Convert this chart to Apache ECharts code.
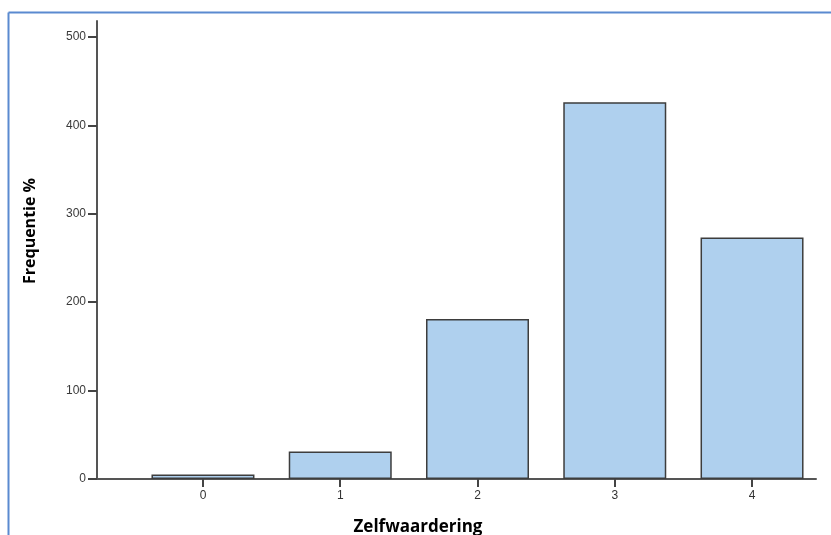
<!DOCTYPE html>
<html><head><meta charset="utf-8">
<script src="https://cdn.jsdelivr.net/npm/echarts@6/dist/echarts.min.js"></script>
<style>html,body{margin:0;padding:0;background:#fff}#c{width:831px;height:535px}</style>
</head><body><div id="c"></div>
<script>
const categories = [0, 1, 2, 3, 4];
const values = [5, 31, 181, 426, 273];
const yTicks = [0, 100, 200, 300, 400, 500];
const xTitle = 'Zelfwaardering';
const yTitle = 'Frequentie %';

const chart = echarts.init(document.getElementById('c'), null, {renderer: 'canvas'});
const axisLineStyle = {color: '#555', width: 2};
chart.setOption({
  animation: false,
  grid: {left: 97, right: 15, top: 21, bottom: 56, containLabel: false},
  xAxis: {
    type: 'value', min: -0.772, max: 4.466,
    splitLine: {show: false},
    axisLine: {show: true, lineStyle: axisLineStyle, onZero: false},
    axisTick: {show: true, customValues: categories, length: 8, lineStyle: {color: '#444', width: 2}},
    axisLabel: {customValues: categories, color: '#333', fontFamily: 'Liberation Sans', fontSize: 12, margin: 11,
      formatter: v => String(v)}
  },
  yAxis: {
    type: 'value', min: 0, max: 518,
    splitLine: {show: false},
    axisLine: {show: true, lineStyle: axisLineStyle, onZero: false},
    axisTick: {show: true, customValues: yTicks, length: 9, lineStyle: {color: '#444', width: 2}},
    axisLabel: {customValues: yTicks, color: '#3a3a3a', fontFamily: 'Liberation Sans', fontSize: 12, margin: 11}
  },
  series: [{
    type: 'bar',
    barWidth: 103,
    data: categories.map((c, i) => [c, values[i]]),
    itemStyle: {color: '#afd0ee', borderColor: '#3d3d3d', borderWidth: 1.5}
  }],
  graphic: [
    {type: 'line', shape: {x1: 8.5, y1: 12.5, x2: 831, y2: 12.5}, style: {stroke: '#5a8ad0', lineWidth: 2}},
    {type: 'line', shape: {x1: 8.5, y1: 12.5, x2: 8.5, y2: 535}, style: {stroke: '#5a8ad0', lineWidth: 2}},
    {type: 'text', x: 30, y: 231, rotation: Math.PI / 2,
      style: {text: yTitle, fontFamily: 'Open Sans', fontWeight: 'bold', fontSize: 16, fill: '#000',
        textAlign: 'center', textVerticalAlign: 'middle'}},
    {type: 'text', x: 418, y: 527,
      style: {text: xTitle, fontFamily: 'Open Sans', fontWeight: 'bold', fontSize: 17, fill: '#000',
        textAlign: 'center', textVerticalAlign: 'middle'}}
  ]
});
</script></body></html>
